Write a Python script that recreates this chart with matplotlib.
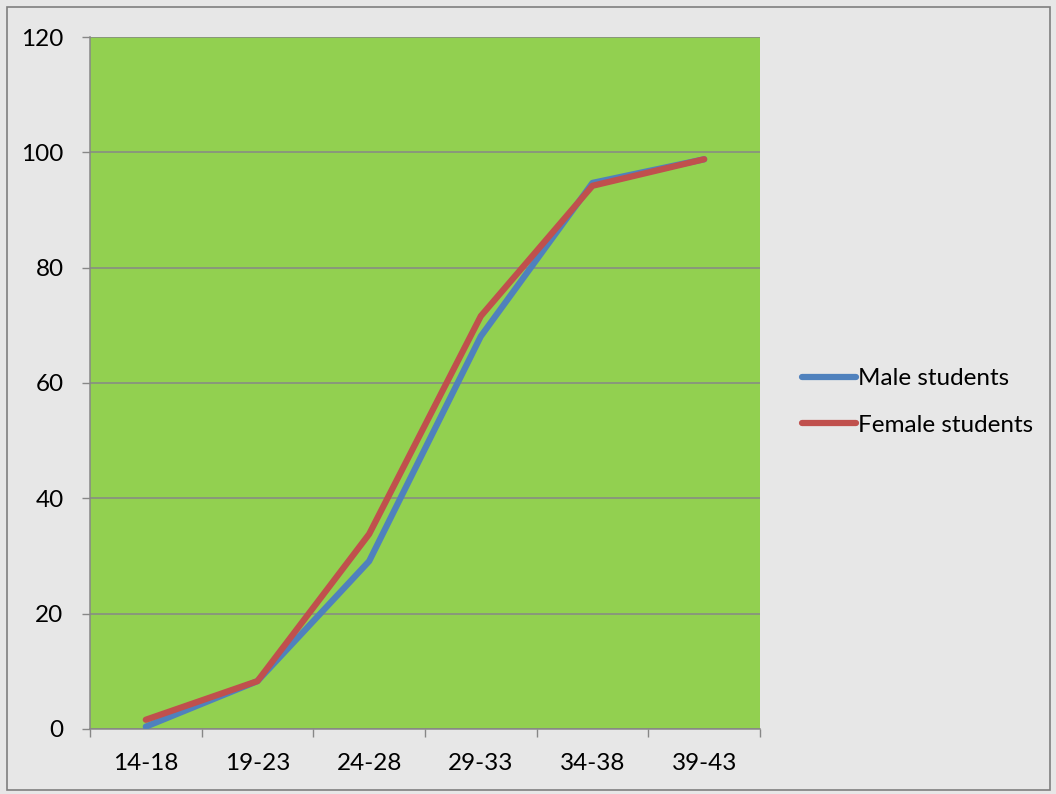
import matplotlib
matplotlib.use('Agg')
import matplotlib.pyplot as plt
from matplotlib.patches import Rectangle

plt.rcParams['font.family'] = ['Lato', 'DejaVu Sans']

age_groups = ['14-18', '19-23', '24-28', '29-33', '34-38', '39-43']
male = [0.4, 8.3, 29.1, 68.1, 94.7, 98.8]
female = [1.6, 8.3, 33.8, 71.6, 94.2, 98.8]

fig = plt.figure(figsize=(10.56, 7.94), dpi=100)
fig.patch.set_facecolor('#e7e7e7')
fig.patches.append(Rectangle((0.0066, 0.005), 0.988, 0.986, transform=fig.transFigure,
                             fill=False, edgecolor='#7f7f7f', linewidth=1.2))

ax = fig.add_axes([0.0852, 0.0819, 0.6345, 0.8715])
ax.set_facecolor('#92d050')

x = list(range(len(age_groups)))
ax.plot(x, male, color='#4f81bd', linewidth=4.5, solid_capstyle='round', label='Male students', zorder=3)
ax.plot(x, female, color='#c0504d', linewidth=4.5, solid_capstyle='round', label='Female students', zorder=4)

ax.set_xlim(-0.5, len(age_groups) - 0.5)
ax.set_ylim(0, 120)
ax.set_yticks(range(0, 121, 20))
ax.yaxis.grid(True, color='#878787', linewidth=1.1)
ax.set_axisbelow(True)

# category boundaries get tick marks, centres get the labels
ax.set_xticks([i - 0.5 for i in range(len(age_groups) + 1)])
ax.set_xticklabels([])
ax.set_xticks(x, minor=True)
ax.set_xticklabels(age_groups, minor=True)
ax.tick_params(axis='x', which='minor', length=0, pad=17, labelsize=17.5)
ax.tick_params(axis='x', which='major', length=6, width=1, color='#878787')
ax.tick_params(axis='y', length=6, width=1, color='#878787', pad=13, labelsize=17.5)

for side in ['top', 'right']:
    ax.spines[side].set_visible(False)
for side in ['left', 'bottom']:
    ax.spines[side].set_color('#878787')
    ax.spines[side].set_linewidth(1.1)

leg = fig.legend(loc='center left', bbox_to_anchor=(0.7385, 0.4935), frameon=False,
                 fontsize=17.5, handlelength=2.25, handletextpad=0.08, labelspacing=1.05)

fig.savefig('out.png', dpi=100, facecolor=fig.get_facecolor())
